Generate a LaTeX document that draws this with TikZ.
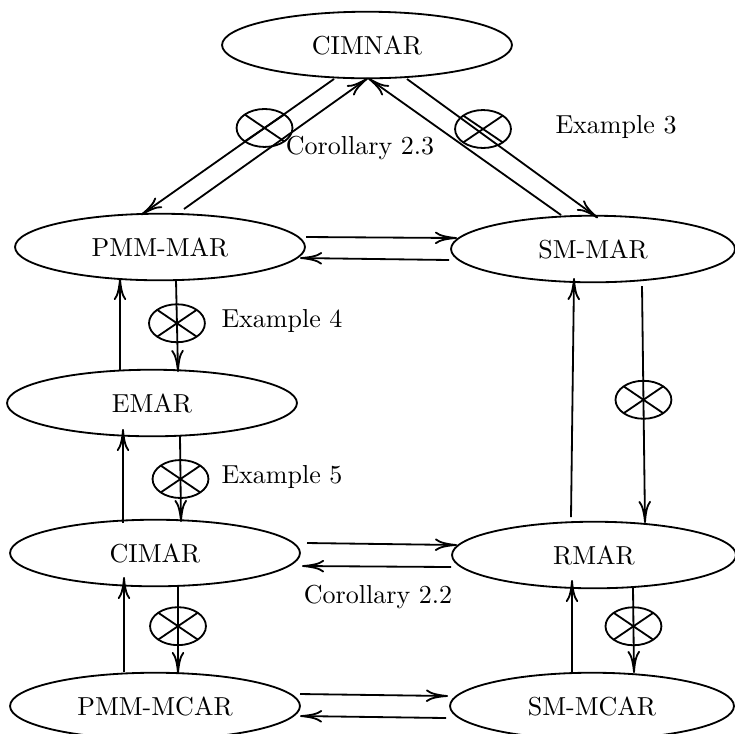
\documentclass[tikz,border=0pt]{standalone}
\usetikzlibrary{shapes.geometric,arrows.meta,calc}
\begin{document}
\begin{tikzpicture}[x=0.3846pt,y=-0.3846pt,line width=0.7pt,
  st/.style={draw,ellipse,inner sep=0pt,minimum width=111.5pt,minimum height=25.6pt},
  stR/.style={st,minimum width=109.2pt},
  ar/.style={-{Computer Modern Rightarrow[length=8.5pt,width=4.8pt]}},
  nope/.style={draw,ellipse,inner sep=0pt,minimum width=21.5pt,minimum height=14.6pt,
    path picture={\draw[-] (path picture bounding box.south west) -- (path picture bounding box.north east)
      (path picture bounding box.north west) -- (path picture bounding box.south east);}},
  lab/.style={inner sep=0pt}]
\useasboundingbox (0,0) rectangle (735,733);
% states
\node[st] (top) at (367,45) {CIMNAR};
\node[st] (pmmmar) at (160,247) {PMM-MAR};
\node[stR] (smmar) at (593,249) {SM-MAR};
\node[st] (emar) at (152,403) {EMAR};
\node[st] (cimar) at (155,553) {CIMAR};
\node[stR] (rmar) at (594,555) {RMAR};
\node[st] (pmmmcar) at (155,706) {PMM-MCAR};
\node[stR] (smmcar) at (592,706) {SM-MCAR};
% diagonal connectors
\draw[ar] ($(top)+(-33,34)$) -- ($(pmmmar)+(-19,-32)$) node[nope,pos=0.36] (x1) {};
\draw[ar] ($(pmmmar)+(24,-38)$) -- ($(top)+(1,33)$);
\draw[ar] ($(smmar)+(-32,-34)$) -- ($(top)+(1,33)$);
\draw[ar] ($(top)+(40,34)$) -- ($(smmar)+(5,-31)$);
\node[nope] (x2) at ($(top)+(116,84)$) {};
% horizontal connectors
\draw[ar] ($(pmmmar)+(146,-10)$) -- ($(smmar)+(-136,-11)$);
\draw[ar] ($(smmar)+(-144,11)$) -- ($(pmmmar)+(140,11)$);
\draw[ar] ($(cimar)+(152,-10)$) -- ($(rmar)+(-137,-10)$);
\draw[ar] ($(rmar)+(-143,12)$) -- ($(cimar)+(147,13)$);
\draw[ar] ($(pmmmcar)+(145,-12)$) -- ($(smmcar)+(-144,-10)$);
\draw[ar] ($(smmcar)+(-146,12)$) -- ($(pmmmcar)+(145,10)$);
% vertical connectors, left
\draw[ar] ($(pmmmar)+(16,33)$) -- ($(emar)+(26,-31)$) node[nope,pos=0.47] (x3) {};
\draw[ar] ($(emar)+(-32,-33)$) -- ($(pmmmar)+(-40,31)$);
\draw[ar] ($(emar)+(28,33)$) -- ($(cimar)+(26,-31)$) node[nope,pos=0.5] (x4) {};
\draw[ar] ($(cimar)+(-32,-30)$) -- ($(emar)+(-29,26)$);
\draw[ar] ($(cimar)+(23,34)$) -- ($(pmmmcar)+(23,-32)$) node[nope,pos=0.45] (x6) {};
\draw[ar] ($(pmmmcar)+(-31,-34)$) -- ($(cimar)+(-31,24)$);
% vertical connectors, right
\draw[ar] ($(smmar)+(49,37)$) -- ($(rmar)+(51,-32)$) node[nope,pos=0.48] (x5) {};
\draw[ar] ($(rmar)+(-23,-38)$) -- ($(smmar)+(-19,29)$);
\draw[ar] ($(rmar)+(39,33)$) -- ($(smmcar)+(42,-33)$) node[nope,pos=0.45] (x7) {};
\draw[ar] ($(smmcar)+(-20,-33)$) -- ($(rmar)+(-22,25)$);
% labels
\node[lab] (c23) at (360,148) {Corollary 2.3};
\node[lab] (e3) at (616,127) {Example 3};
\node[lab] (e4) at (282,321) {Example 4};
\node[lab] (e5) at (282,477) {Example 5};
\node[lab] (c22) at (378,597) {Corollary 2.2};
\end{tikzpicture}
\end{document}
